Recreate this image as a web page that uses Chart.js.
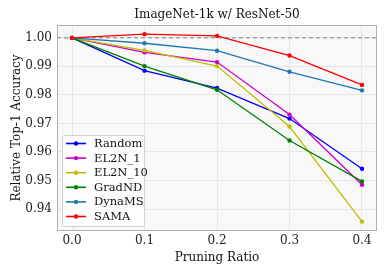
<!DOCTYPE html>
<html>
<head>
<meta charset="UTF-8">
<script src="https://cdn.jsdelivr.net/npm/chart.js@4.4.0/dist/chart.umd.min.js"></script>
<style>
*{margin:0;padding:0}
body{background:#fff;width:390px;height:273px;overflow:hidden}
#wrap{position:relative;width:390px;height:273px}
</style>
</head>
<body>
<div id="wrap"><canvas id="c"></canvas></div>
<script>
// pruning ratios on x
const ratios = [0.0, 0.1, 0.2, 0.3, 0.4];
const xTicks = [0.0, 0.1, 0.2, 0.3, 0.4];
const yTicks = [0.94, 0.95, 0.96, 0.97, 0.98, 0.99, 1.00];

const names = ["Random", "EL2N_1", "EL2N_10", "GradND", "DynaMS", "SAMA"];
const colors = ["#0000ff", "#cc00cc", "#bfbf00", "#008000", "#1f77b4", "#ff0000"];

const random = [1.0, 0.9885, 0.9824, 0.9717, 0.9541];
const el2n1 = [1.0, 0.9949, 0.9915, 0.9731, 0.9485];
const el2n10 = [1.0, 0.9956, 0.9901, 0.9689, 0.9356];
const gradnd = [1.0, 0.9901, 0.9818, 0.9640, 0.9497];
const dynams = [1.0, 0.9981, 0.9955, 0.9881, 0.9816];
const sama = [1.0, 1.0013, 1.0007, 0.9938, 0.9835];
const series = [random, el2n1, el2n10, gradnd, dynams, sama];

const xMin = -0.0207, xMax = 0.4207;
const yMin = 0.9323, yMax = 1.0045;
const FONT = "'DejaVu Serif', serif";

const datasets = series.map((vals, i) => ({
  label: names[i],
  data: vals.map((v, j) => ({ x: ratios[j], y: v })),
  borderColor: colors[i],
  backgroundColor: colors[i],
  borderWidth: 1.3,
  pointRadius: 2.2,
  pointHoverRadius: 2.2,
  pointBorderWidth: 0,
  order: 6 - i
}));
// reference line at 1.0
datasets.push({
  label: "ref",
  data: [{ x: xMin, y: 1.0 }, { x: xMax, y: 1.0 }],
  borderColor: "#808080",
  borderWidth: 1,
  borderDash: [4, 3],
  pointRadius: 0,
  order: 20
});

const deco = {
  id: "deco",
  beforeDraw(chart) {
    const { ctx, chartArea: a } = chart;
    ctx.save();
    ctx.fillStyle = "#f8f8f8";
    ctx.fillRect(a.left, a.top, a.right - a.left, a.bottom - a.top);
    ctx.restore();
  },
  afterDraw(chart) {
    const { ctx, chartArea: a } = chart;
    ctx.save();
    // frame
    ctx.strokeStyle = "#b0b0b0";
    ctx.lineWidth = 1;
    ctx.strokeRect(a.left + 0.5, a.top + 0.5, a.right - a.left - 1, a.bottom - a.top - 1);
    // title
    ctx.fillStyle = "#111";
    ctx.font = "12px " + FONT;
    ctx.textAlign = "center";
    ctx.textBaseline = "alphabetic";
    ctx.fillText("ImageNet-1k w/ ResNet-50", (a.left + a.right) / 2, a.top - 7);
    // legend
    const bx = a.left + 5, bw = 82, bh = 91, by = a.bottom - 5 - bh;
    ctx.fillStyle = "rgba(255,255,255,0.85)";
    ctx.strokeStyle = "#d0d0d0";
    ctx.beginPath();
    ctx.roundRect(bx + 0.5, by + 0.5, bw, bh, 2);
    ctx.fill();
    ctx.stroke();
    ctx.font = "11.5px " + FONT;
    ctx.textAlign = "left";
    ctx.textBaseline = "middle";
    names.forEach((n, i) => {
      const y = by + 8.5 + i * 14.6;
      ctx.strokeStyle = colors[i];
      ctx.lineWidth = 1.6;
      ctx.beginPath();
      ctx.moveTo(bx + 4, y);
      ctx.lineTo(bx + 24, y);
      ctx.stroke();
      ctx.fillStyle = colors[i];
      ctx.beginPath();
      ctx.arc(bx + 14, y, 2.2, 0, Math.PI * 2);
      ctx.fill();
      ctx.fillStyle = "#111";
      ctx.fillText(n, bx + 32, y + 0.5);
    });
    ctx.restore();
  }
};

new Chart(document.getElementById("c"), {
  type: "line",
  data: { datasets },
  options: {
    responsive: true, maintainAspectRatio: false, animation: false,
    layout: { padding: { top: 25, right: 13, left: 6, bottom: 0 } },
    plugins: { legend: { display: false }, tooltip: { enabled: false } },
    scales: {
      x: {
        type: "linear", min: xMin, max: xMax,
        afterBuildTicks: s => { s.ticks = xTicks.map(v => ({ value: v })); },
        afterFit: s => { s.height = 42; },
        grid: { color: "#e6e6e6", drawTicks: false },
        border: { display: false },
        ticks: { color: "#222", padding: 3, font: { family: FONT, size: 12 }, callback: v => v.toFixed(1) },
        title: { display: true, text: "Pruning Ratio", color: "#111", padding: { top: 0, bottom: 8 }, font: { family: FONT, size: 12 } }
      },
      y: {
        min: yMin, max: yMax,
        afterBuildTicks: s => { s.ticks = yTicks.map(v => ({ value: v })); },
        afterFit: s => { s.width = 51; },
        grid: { color: "#e6e6e6", drawTicks: false },
        border: { display: false },
        ticks: { color: "#222", padding: 5, font: { family: FONT, size: 12 }, callback: v => v.toFixed(2) },
        title: { display: true, text: "Relative Top-1 Accuracy", color: "#111", padding: { bottom: 2 }, font: { family: FONT, size: 12 } }
      }
    }
  },
  plugins: [deco]
});
</script>
</body>
</html>
